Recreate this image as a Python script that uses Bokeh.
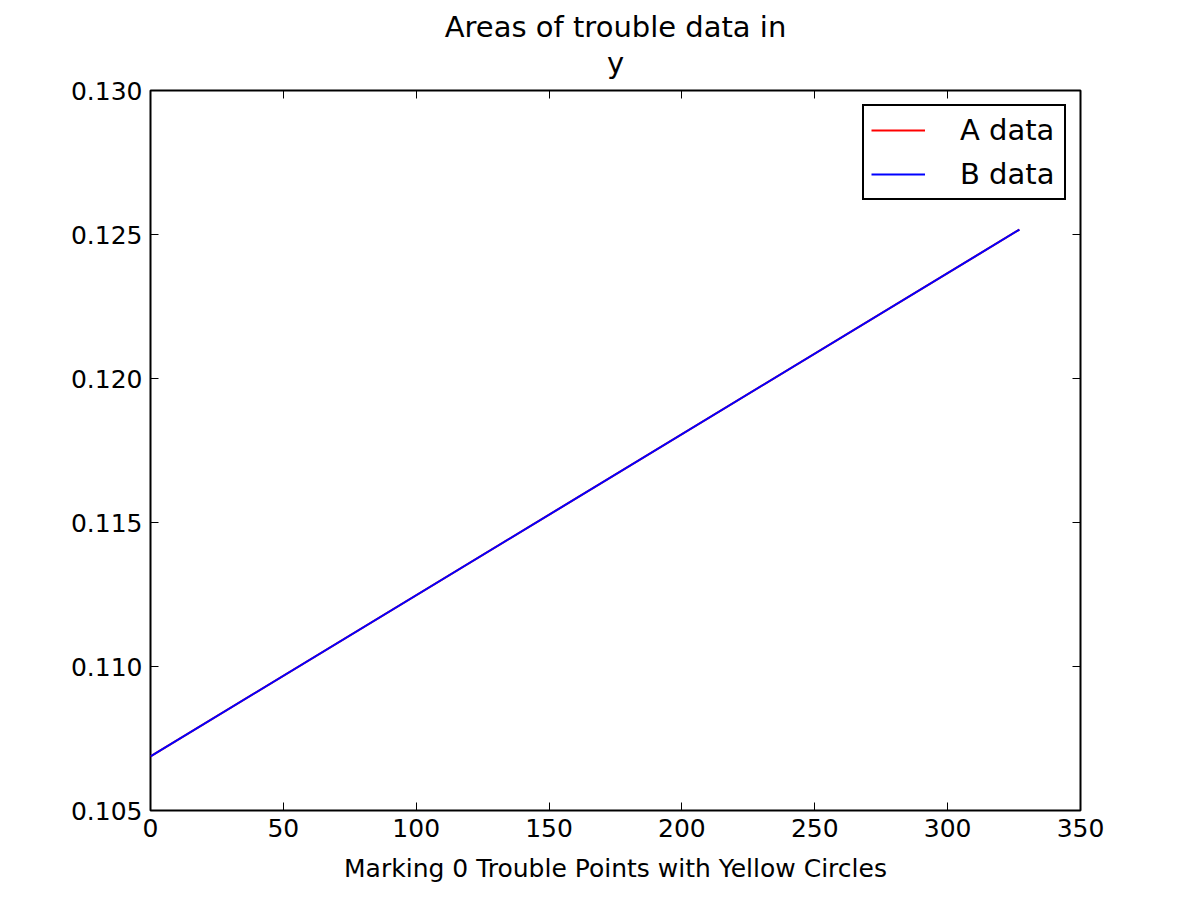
from bokeh.plotting import figure
from bokeh.models import LinearAxis, FixedTicker, PrintfTickFormatter, Range1d, Legend, LegendItem, Title
from bokeh.embed import file_html
from bokeh.resources import INLINE

# ---- data ----
x_vals = [0, 327]
a_vals = [0.10688, 0.12517]
b_vals = [0.10688, 0.12517]
x_ticks = [0, 50, 100, 150, 200, 250, 300, 350]
y_ticks = [0.105, 0.110, 0.115, 0.120, 0.125, 0.130]
title_lines = ["Areas of trouble data in", "y"]
x_label = "Marking 0 Trouble Points with Yellow Circles"
series_labels = ["A data", "B data"]
series_colors = ["#ff0000", "#0000ff"]

FONT = "DejaVu Sans"

p = figure(
    frame_width=930, frame_height=720,
    x_range=Range1d(0, 350), y_range=Range1d(0.105, 0.130),
    output_backend="svg", toolbar_location=None,
    min_border_left=150, min_border_right=112,
    min_border_top=90, min_border_bottom=82,
    background_fill_color="white", border_fill_color="white",
)
p.grid.visible = False
p.outline_line_color = "black"
p.outline_line_width = 2


def style_title(t):
    t.align = "center"
    t.text_font = FONT
    t.text_font_size = "29px"
    t.text_font_style = "normal"
    t.text_color = "black"


def style_axis(ax, show_labels):
    ax.axis_line_color = None
    ax.major_tick_in = 8
    ax.major_tick_out = 0
    ax.major_tick_line_color = "black"
    ax.major_tick_line_width = 1
    ax.minor_tick_line_color = None
    ax.major_label_text_font = FONT
    ax.major_label_text_color = "black"
    if show_labels:
        ax.major_label_text_font_size = "25px"
        ax.major_label_standoff = 8
    else:
        ax.major_label_text_font_size = "0px"
        ax.major_label_standoff = 0


xa = p.xaxis[0]
ya = p.yaxis[0]
xa.ticker = FixedTicker(ticks=x_ticks)
ya.ticker = FixedTicker(ticks=y_ticks)
ya.formatter = PrintfTickFormatter(format="%.3f")
style_axis(xa, True)
style_axis(ya, True)
xa.axis_label = x_label
xa.axis_label_text_font = FONT
xa.axis_label_text_font_size = "25px"
xa.axis_label_text_font_style = "normal"
xa.axis_label_text_color = "black"
xa.axis_label_standoff = 14

# panels above: first added sits closest to the frame
top_ax = LinearAxis(ticker=FixedTicker(ticks=x_ticks))
right_ax = LinearAxis(ticker=FixedTicker(ticks=y_ticks))
style_axis(top_ax, False)
style_axis(right_ax, False)
p.add_layout(top_ax, "above")
p.add_layout(right_ax, "right")

t2 = Title(text=title_lines[1])
style_title(t2)
t2.standoff = 22
p.add_layout(t2, "above")

p.title.text = title_lines[0]
style_title(p.title)
p.title.standoff = -22

renderers = []
for vals, col in zip([a_vals, b_vals], series_colors):
    r = p.line(x_vals, vals, line_color=col, line_width=2)
    renderers.append(r)

legend = Legend(
    items=[LegendItem(label=lab, renderers=[r]) for lab, r in zip(series_labels, renderers)],
    location="top_right",
    margin=14,
    padding=7,
    spacing=10,
    glyph_width=54,
    glyph_height=30,
    label_height=30,
    label_standoff=35,
    label_width=97,
    label_text_font=FONT,
    label_text_font_size="29px",
    label_text_color="black",
    border_line_color="black",
    border_line_alpha=1.0,
    border_line_width=2,
    background_fill_color="white",
    background_fill_alpha=1.0,
)
p.add_layout(legend)

open("out.html", "w").write(file_html(p, INLINE))
